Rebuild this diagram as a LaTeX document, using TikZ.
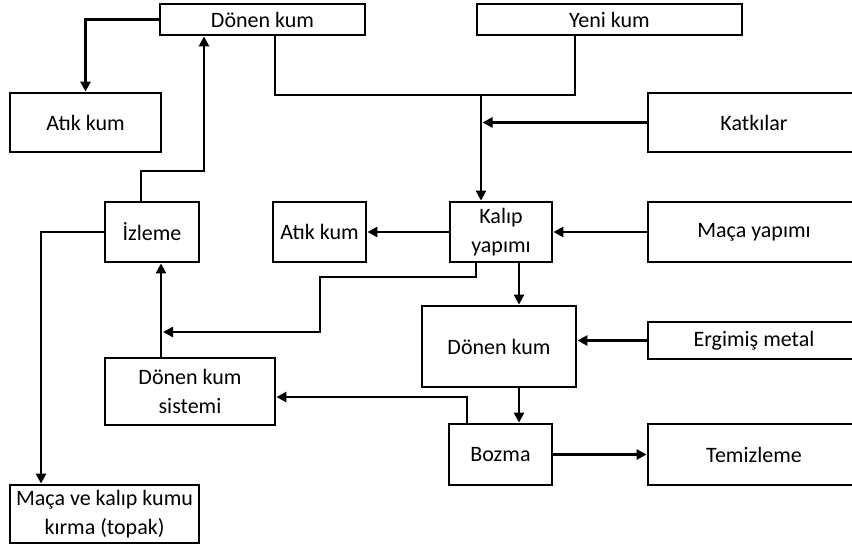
\documentclass[tikz,border=0pt]{standalone}
\usepackage{fontspec}
\setmainfont{Carlito}
\usetikzlibrary{arrows.meta}
\tikzset{
    kutu/.style={draw, line width=2.8pt, rectangle, inner sep=0pt, align=center,
        font=\fontsize{22}{29}\selectfont},
    ok/.style={line width=2.8pt, -{Triangle[length=10pt,width=10pt]}},
    hat/.style={line width=2.8pt}
}
\begin{document}
\begin{tikzpicture}[x=1pt,y=-1pt]
        \clip (0,0) rectangle (852,547);
        %% kutular
        \node[kutu, minimum width=205, minimum height=31] (donen1) at (262.5,19.5) {Dönen kum};
        \node[kutu, minimum width=265, minimum height=31] (yeni) at (609.5,19.5) {Yeni kum};
        \node[kutu, minimum width=151, minimum height=59] (atik1) at (85.5,122.5) {Atık kum};
        \node[kutu, minimum width=212, minimum height=59] (katki) at (754,122.5) {Katkılar};
        \node[kutu, minimum width=94, minimum height=60] (izleme) at (152,232) {İzleme};
        \node[kutu, minimum width=93, minimum height=60] (atik2) at (319.5,232) {Atık kum};
        \node[kutu, minimum width=102, minimum height=60] (kalip) at (501,232) {Kalıp\\yapımı};
        \node[kutu, minimum width=212, minimum height=60] (maca) at (754,232) {Maça yapımı};
        \node[kutu, minimum width=154, minimum height=81] (donen2) at (499,346.5) {Dönen kum};
        \node[kutu, minimum width=212, minimum height=37] (ergimis) at (754,340.5) {Ergimiş metal};
        \node[kutu, minimum width=170, minimum height=67] (sistem) at (190,391.5) {Dönen kum\\sistemi};
        \node[kutu, minimum width=103, minimum height=61] (bozma) at (500.5,454.5) {Bozma};
        \node[kutu, minimum width=212, minimum height=61] (temiz) at (754,454.5) {Temizleme};
        \node[kutu, minimum width=189, minimum height=58] (kirma) at (104.5,514) {Maça ve kalıp kumu\\kırma (topak)};
        %% kirilma noktalari
        \coordinate (sol) at (275,95);
        \coordinate (sag) at (575,95);
        \coordinate (birlesme) at (481,95);
        \coordinate (k1) at (476,277);
        \coordinate (k2) at (320,277);
        \coordinate (k3) at (320,332);
        \coordinate (k4) at (163,332);
        \coordinate (dikey) at (519,0);
        \coordinate (b1) at (467,397);
        \coordinate (s1) at (161,0);
        \coordinate (i1) at (141,171);
        \coordinate (i2) at (204,171);
        \coordinate (i3) at (41,232);
        %% baglantilar
        \draw[ok] (donen1.west) -| (atik1.north);
        \draw[hat] (donen1.south -| sol) -- (sol) -- (sag) -- (yeni.south -| sag);
        \draw[ok] (birlesme) -- (kalip.north -| birlesme);
        \draw[ok, shorten >=1.5pt] (katki.west) -- (katki.west -| birlesme);
        \draw[ok] (maca.west) -- (kalip.east);
        \draw[ok] (kalip.west) -- (atik2.east);
        \draw[ok] (kalip.south -| k1) -- (k1) -- (k2) -- (k3) -- (k4);
        \draw[ok] (kalip.south -| dikey) -- (donen2.north -| dikey);
        \draw[ok] (donen2.south -| dikey) -- (bozma.north -| dikey);
        \draw[ok] (ergimis.west) -- (donen2.east |- ergimis.west);
        \draw[ok] (bozma.north -| b1) -- (b1) -- (sistem.east |- b1);
        \draw[ok] (bozma.east) -- (temiz.west);
        \draw[ok] (sistem.north -| s1) -- (izleme.south -| s1);
        \draw[ok] (izleme.north -| i1) -- (i1) -- (i2) -- (donen1.south -| i2);
        \draw[ok] (izleme.west) -- (i3) -- (kirma.north -| i3);
\end{tikzpicture}
\end{document}
